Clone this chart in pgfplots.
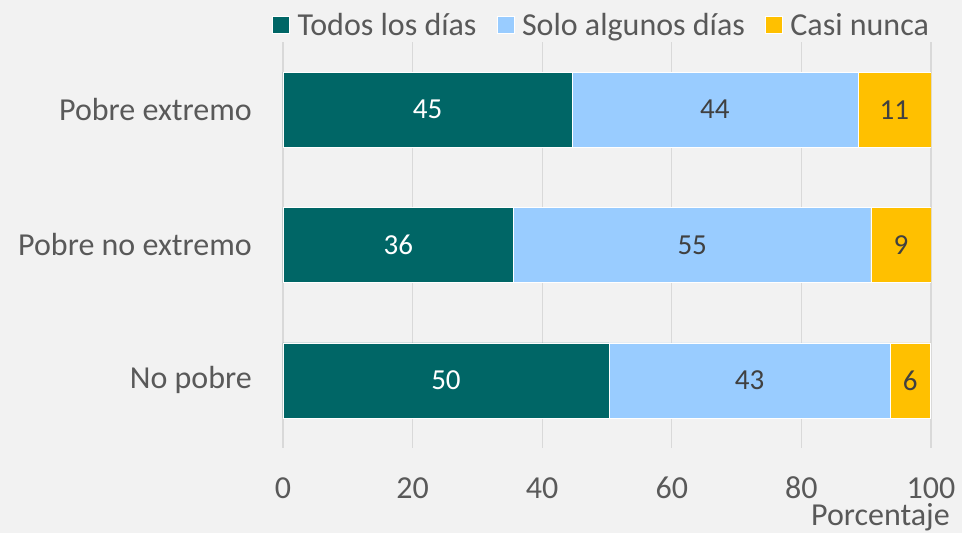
\documentclass[border=0pt]{standalone}
\usepackage{fontspec}
\setmainfont{Carlito}
\usepackage{pgfplots}
\pgfplotsset{compat=1.18}
\usepackage{pgfplotstable}

\definecolor{bgc}{HTML}{F2F2F2}
\definecolor{gridc}{HTML}{D9D9D9}
\definecolor{txt}{HTML}{595959}
\definecolor{dark}{HTML}{404040}
\definecolor{teal1}{HTML}{006666}
\definecolor{sky}{HTML}{99CCFF}
\definecolor{gold}{HTML}{FFC000}

\newcommand\chartfont{\fontsize{32}{38}\selectfont}
\newcommand\barfont{\fontsize{29}{35}\selectfont}

% porcentajes por grupo de pobreza (0 = arriba)
\pgfplotstableread{
idx todos algunos nunca
0 44.6 44.1 11.3
1 35.6 55.1 9.3
2 50.3 43.4 6.2
}\datos

\begin{document}
\begin{tikzpicture}
\fill[bgc] (-283pt,-85pt) rectangle (679pt,448pt);
\begin{axis}[
  scale only axis, width=648pt, height=406pt,
  xbar stacked, bar width=75pt,
  xmin=0, xmax=100, ymin=-0.5, ymax=2.5, y dir=reverse,
  xtick={0,20,...,100}, ytick={0,1,2},
  yticklabels={Pobre extremo, Pobre no extremo, No pobre},
  xmajorgrids, grid style={gridc, line width=1.3pt},
  axis line style={draw=none}, tick style={draw=none},
  ticklabel style={font=\chartfont, text=txt, inner sep=0pt},
  x tick label style={anchor=base, yshift=-50pt},
  y tick label style={anchor=east, xshift=-31pt},
  /pgf/number format/assume math mode=true,
  xlabel={Porcentaje},
  xlabel style={at={(axis description cs:1,0)}, anchor=base east,
    xshift=19pt, yshift=-77pt, font=\chartfont, text=txt, inner sep=0pt},
  legend columns=3,
  legend style={at={(axis description cs:-0.017,1.0419)}, anchor=west,
    draw=none, fill=none, inner sep=0pt, font=\chartfont, text=txt,
    nodes={inner sep=0pt},
    /tikz/every odd column/.style={column sep=8pt},
    /tikz/every even column/.style={column sep=20pt}},
  legend image code/.code={\fill[#1] (0pt,-8.5pt) rectangle (17pt,8.5pt);},
  nodes near coords={\pgfmathprintnumber[fixed,precision=0]{\pgfplotspointmeta}},
  point meta=explicit,
]
\addplot[fill=teal1, draw=white, line width=0.4pt,
  nodes near coords style={font=\barfont, text=white, anchor=center}]
  table[x=todos, y=idx, meta=todos] {\datos};
\addlegendentry{Todos los días}
\addplot[fill=sky, draw=white, line width=0.4pt,
  nodes near coords style={font=\barfont, text=dark, anchor=center}]
  table[x=algunos, y=idx, meta=algunos] {\datos};
\addlegendentry{Solo algunos días}
\addplot[fill=gold, draw=white, line width=0.4pt,
  nodes near coords style={font=\barfont, text=dark, anchor=center}]
  table[x=nunca, y=idx, meta=nunca] {\datos};
\addlegendentry{Casi nunca}
\end{axis}
\pgfresetboundingbox
\path (-283pt,-85pt) rectangle (679pt,448pt);
\end{tikzpicture}
\end{document}
